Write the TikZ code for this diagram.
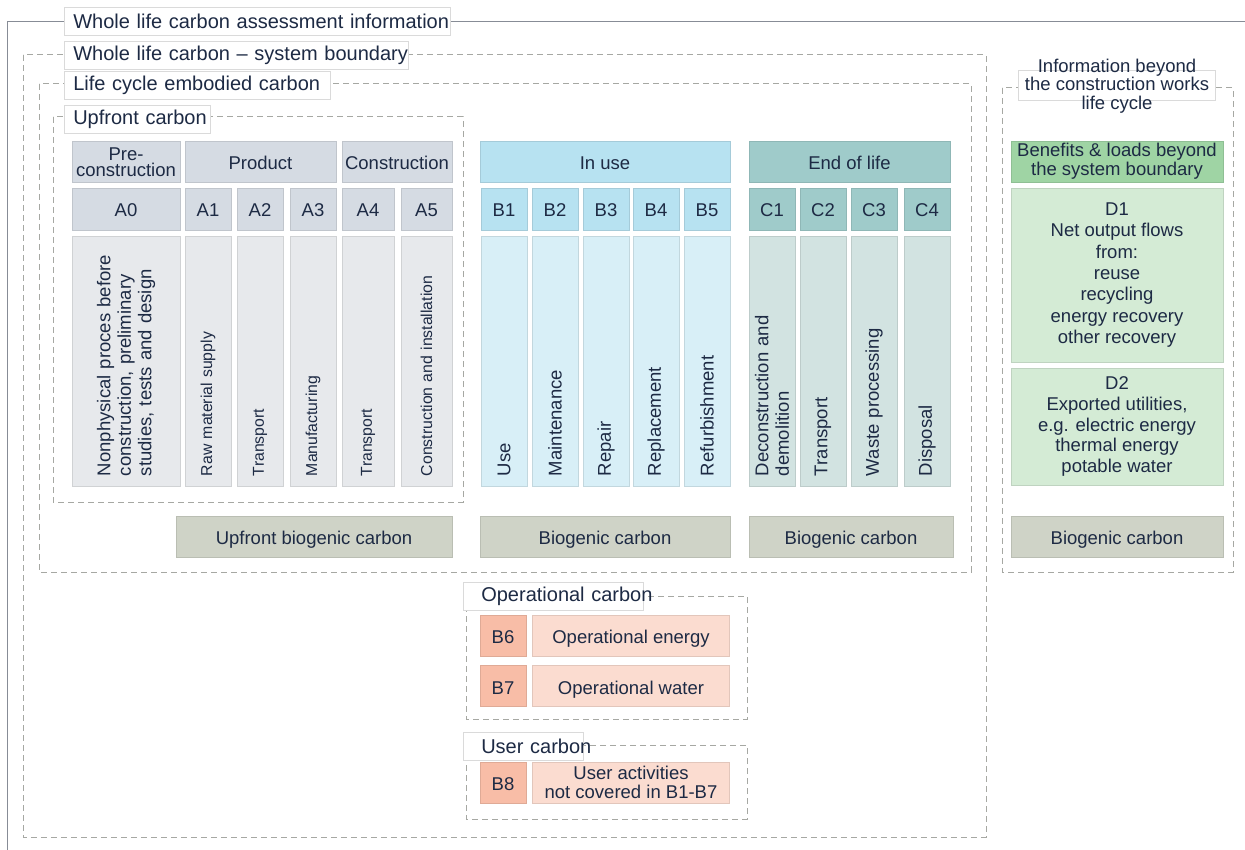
\documentclass[tikz,border=0pt]{standalone}
\usepackage{fontspec}
\setmainfont{Liberation Sans}
\usetikzlibrary{positioning}

\definecolor{txt}{HTML}{1D2A44}
\definecolor{framegray}{HTML}{878C96}
\definecolor{dashgray}{HTML}{A6A8A3}
\definecolor{lblgray}{HTML}{DADADA}
\definecolor{aHead}{HTML}{D5DBE3}
\definecolor{aDesc}{HTML}{E7E9EC}
\definecolor{bHead}{HTML}{B7E2F1}
\definecolor{bDesc}{HTML}{D8EFF7}
\definecolor{cHead}{HTML}{9FCBCA}
\definecolor{cDesc}{HTML}{D2E3E1}
\definecolor{dHead}{HTML}{9FD4A4}
\definecolor{dDesc}{HTML}{D4EBD5}
\definecolor{bio}{HTML}{CFD3C7}
\definecolor{opCode}{HTML}{F8BDA7}
\definecolor{opDesc}{HTML}{FBDCD0}

\begin{document}
\begin{tikzpicture}[x=1pt, y=-1pt, text=txt, font=\fontsize{18.5}{20.5}\selectfont,
	cell/.style={fill=#1, draw=#1!90!black, line width=0.5pt, inner sep=0pt},
	head/.style={cell=#1, minimum height=41pt, text height=18pt, text depth=2pt},
	twoline/.style={cell=#1, minimum height=41pt, align=center},
	code/.style={cell=#1, minimum height=42pt, text height=18pt, text depth=2pt},
	desc/.style={cell=#1, rotate=90, minimum width=250pt, text width=230pt, inner xsep=10pt, align=left},
	small/.style={font=\fontsize{15.8}{18}\selectfont},
	bound/.style={draw=dashgray, line width=1pt, dash pattern=on 6pt off 4pt},
	lbl/.style={fill=white, draw=lblgray, line width=0.6pt, inner xsep=9pt, inner ysep=0pt, text width=#1, align=left, minimum height=28pt, anchor=west, font=\fontsize{20}{22}\selectfont}]
	\useasboundingbox (0,0) rectangle (1245,850);
	
	% frames
	\draw[framegray, line width=1pt] (1245,22) -- (7,22) -- (7,850);
	\draw[bound] (23,55) rectangle (986,837);
	\draw[bound] (39,84) rectangle (971,572);
	\draw[bound] (53,117) rectangle (463,502);
	\draw[bound] (1002,88) rectangle (1233,572);
	\draw[bound] (466,596) rectangle (747,719);
	\draw[bound] (466,745) rectangle (747,819);
	
	% labels
	\node[lbl=368pt] (wlca) at (64,21) {\mbox{Whole life carbon assessment information}};
	\node[lbl=326pt] (wlcsb) at (64,55) {\mbox{Whole life carbon -- system boundary}};
	\node[lbl=248pt] (lcec) at (64,85) {\mbox{Life cycle embodied carbon}};
	\node[lbl=128pt] (upc) at (64,119.5) {\mbox{Upfront carbon}};
	\node[lbl=144pt, inner xsep=18pt] (opc) at (463,596.5) {\mbox{Operational carbon}};
	\node[lbl=84pt, inner xsep=18pt] (usc) at (463,746.5) {\mbox{User carbon}};
	\node[lbl=179pt, anchor=center, minimum height=30pt] (infobox) at (1116.5,85) {};
	\node[align=center, font=\fontsize{18.5}{18.5}\selectfont] (info) at (1117,86) {Information beyond\\the construction works\\life cycle};
	
	% stage headers
	\node[twoline=aHead, minimum width=108pt, font=\fontsize{18.5}{16.5}\selectfont] (pre) at (126,162) {Pre-\\construction};
	\node[head=aHead, minimum width=151pt] (prod) at (260.5,161.5) {Product};
	\node[head=aHead, minimum width=110pt] (cons) at (397,161.5) {Construction};
	\node[head=bHead, minimum width=250pt] (inuse) at (605,161.5) {In use};
	\node[head=cHead, minimum width=201pt] (eol) at (849.5,161.5) {End of life};
	\node[twoline=dHead, minimum width=212pt, font=\fontsize{18.5}{19}\selectfont] (bnf) at (1117,161.5) {Benefits \& loads beyond\\the system boundary};
	
	% modules
	\node[code=aHead, minimum width=108pt] (a0) at (126,209) {A0};
	\node[code=aHead, minimum width=46pt] (a1) at (208,209) {A1};
	\node[code=aHead, minimum width=46pt] (a2) at (260,209) {A2};
	\node[code=aHead, minimum width=46pt] (a3) at (313,209) {A3};
	\node[code=aHead, minimum width=52pt] (a4) at (368,209) {A4};
	\node[code=aHead, minimum width=51pt] (a5) at (426.5,209) {A5};
	\node[code=bHead, minimum width=46pt] (b1) at (504,209) {B1};
	\node[code=bHead, minimum width=46pt] (b2) at (555,209) {B2};
	\node[code=bHead, minimum width=46pt] (b3) at (606,209) {B3};
	\node[code=bHead, minimum width=46pt] (b4) at (656,209) {B4};
	\node[code=bHead, minimum width=46pt] (b5) at (707,209) {B5};
	\node[code=cHead, minimum width=46pt] (c1) at (772,209) {C1};
	\node[code=cHead, minimum width=46pt] (c2) at (823,209) {C2};
	\node[code=cHead, minimum width=46pt] (c3) at (874,209) {C3};
	\node[code=cHead, minimum width=46pt] (c4) at (927,209) {C4};
	
	% descriptions
	\node[desc=aDesc, minimum height=108pt] (a0d) at (126,361) {Nonphysical proces before\\construction, preliminary\\studies, tests and design};
	\node[desc=aDesc, small, minimum height=46pt] (a1d) at (208,361) {Raw material supply};
	\node[desc=aDesc, small, minimum height=46pt] (a2d) at (260,361) {Transport};
	\node[desc=aDesc, small, minimum height=46pt] (a3d) at (313,361) {Manufacturing};
	\node[desc=aDesc, small, minimum height=52pt] (a4d) at (368,361) {Transport};
	\node[desc=aDesc, small, minimum height=51pt] (a5d) at (426.5,361) {Construction and installation};
	\node[desc=bDesc, minimum height=46pt] (b1d) at (504,361) {Use};
	\node[desc=bDesc, minimum height=46pt] (b2d) at (555,361) {Maintenance};
	\node[desc=bDesc, minimum height=46pt] (b3d) at (606,361) {Repair};
	\node[desc=bDesc, minimum height=46pt] (b4d) at (656,361) {Replacement};
	\node[desc=bDesc, minimum height=46pt] (b5d) at (707,361) {Refurbishment};
	\node[desc=cDesc, minimum height=46pt] (c1d) at (772,361) {Deconstruction and\\demolition};
	\node[desc=cDesc, minimum height=46pt] (c2d) at (823,361) {Transport};
	\node[desc=cDesc, minimum height=46pt] (c3d) at (874,361) {Waste processing};
	\node[desc=cDesc, minimum height=46pt] (c4d) at (927,361) {Disposal};
	
	\node[cell=dDesc, minimum width=212pt, minimum height=174pt, align=center, font=\fontsize{18.5}{21.3}\selectfont] (d1) at (1117,275) {D1\\Net output flows\\from:\\reuse\\recycling\\energy recovery\\other recovery};
	\node[cell=dDesc, minimum width=212pt, minimum height=117pt, align=center, font=\fontsize{18.5}{20.7}\selectfont] (d2) at (1117,426.5) {D2\\Exported utilities,\\e.g. electric energy\\thermal energy\\potable water};
	
	% biogenic
	\node[head=bio, minimum width=276pt] (ubio) at (314,536.5) {Upfront biogenic carbon};
	\node[head=bio, minimum width=250pt] (bbio) at (605,536.5) {Biogenic carbon};
	\node[head=bio, minimum width=204pt] (cbio) at (851,536.5) {Biogenic carbon};
	\node[head=bio, minimum width=212pt] (dbio) at (1117,536.5) {Biogenic carbon};
	
	% operational and user
	\node[code=opCode, minimum width=46pt, minimum height=41pt] (b6) at (503,635.5) {B6};
	\node[code=opDesc, minimum width=197pt, minimum height=41pt] (oe) [right=6pt of b6] {Operational energy};
	\node[code=opCode, minimum width=46pt, minimum height=41pt] (b7) [below=9pt of b6] {B7};
	\node[code=opDesc, minimum width=197pt, minimum height=41pt] (ow) [right=6pt of b7] {Operational water};
	\node[code=opCode, minimum width=46pt, minimum height=41pt] (b8) at (503,782.5) {B8};
	\node[twoline=opDesc, minimum width=197pt, font=\fontsize{18.5}{19}\selectfont] (ua) [right=6pt of b8] {User activities\\not covered in B1-B7};
	
\end{tikzpicture}
\end{document}
